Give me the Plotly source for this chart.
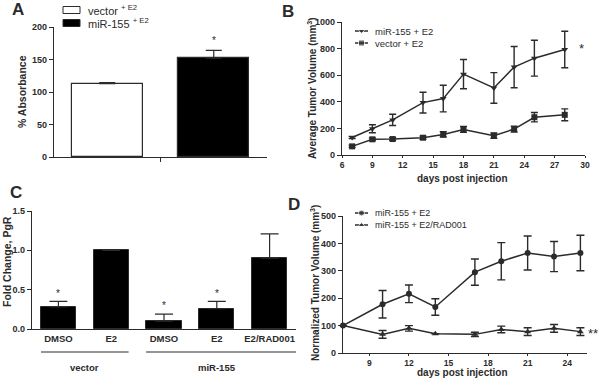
import plotly.graph_objects as go

# ---------------- data ----------------
# Panel A
a_groups = ["vector", "miR-155"]
a_values = [113, 152]
a_err = [1.5, 12]

# Panel B
b_days = [7, 9, 11, 14, 16, 18, 21, 23, 25, 28]
b_mir = [132, 197, 264, 394, 424, 608, 504, 661, 728, 793]
b_mir_err = [8, 30, 42, 78, 100, 110, 115, 155, 135, 137]
b_vec = [65, 118, 120, 130, 155, 192, 145, 195, 284, 302]
b_vec_err = [8, 10, 10, 12, 20, 22, 20, 22, 35, 45]

# Panel C
c_labels = ["DMSO", "E2", "DMSO", "E2", "E2/RAD001"]
c_values = [0.28, 1.0, 0.10, 0.26, 0.90]
c_err = [0.07, 0.0, 0.09, 0.09, 0.31]
c_star = [True, False, True, True, False]
c_groups = ["vector", "miR-155"]

# Panel D
d_days = [7, 10, 12, 14, 17, 19, 21, 23, 25]
d_mir = [100, 178, 216, 168, 295, 335, 365, 352, 365]
d_mir_err = [0, 50, 32, 30, 48, 68, 62, 55, 65]
d_rad = [100, 68, 90, 70, 68, 86, 78, 90, 78]
d_rad_err = [0, 14, 10, 0, 8, 12, 14, 14, 14]

# ---------------- styling ----------------
FONT = "Liberation Sans, Arial, sans-serif"
INK = "#2b2b2b"
W, H = 600, 380


def px(x):
    return x / W


def py(y):
    return 1 - y / H


fig = go.Figure()

# Panel A bars
a_x = list(range(len(a_groups)))
fig.add_trace(go.Bar(x=[a_x[0]], y=[a_values[0]], width=0.667,
                     marker=dict(color="white", line=dict(color=INK, width=1.2)),
                     error_y=dict(type="data", array=[a_err[0]], arrayminus=[0], symmetric=False,
                                  color=INK, thickness=1.2, width=8),
                     xaxis="x", yaxis="y", showlegend=False))
fig.add_trace(go.Bar(x=[a_x[1]], y=[a_values[1]], width=0.667,
                     marker=dict(color="black", line=dict(color=INK, width=1.2)),
                     error_y=dict(type="data", array=[a_err[1]], arrayminus=[0], symmetric=False,
                                  color=INK, thickness=1.2, width=8),
                     xaxis="x", yaxis="y", showlegend=False))

# Panel B lines
fig.add_trace(go.Scatter(x=b_days, y=b_mir, mode="lines+markers",
                         line=dict(color=INK, width=1.5),
                         marker=dict(symbol="triangle-down", size=6, color=INK),
                         error_y=dict(type="data", array=b_mir_err, color=INK, thickness=1.4, width=3.5),
                         xaxis="x2", yaxis="y2", showlegend=False, cliponaxis=False))
fig.add_trace(go.Scatter(x=b_days, y=b_vec, mode="lines+markers",
                         line=dict(color=INK, width=1.5),
                         marker=dict(symbol="square", size=6, color=INK),
                         error_y=dict(type="data", array=b_vec_err, color=INK, thickness=1.4, width=3.5),
                         xaxis="x2", yaxis="y2", showlegend=False, cliponaxis=False))

# Panel C bars
c_x = list(range(len(c_labels)))
fig.add_trace(go.Bar(x=c_x, y=c_values, width=0.667,
                     marker=dict(color="black", line=dict(color=INK, width=1)),
                     error_y=dict(type="data", array=c_err, arrayminus=[0] * len(c_err), symmetric=False,
                                  color=INK, thickness=1.2, width=9),
                     xaxis="x3", yaxis="y3", showlegend=False))

# Panel D lines
fig.add_trace(go.Scatter(x=d_days, y=d_mir, mode="lines+markers",
                         line=dict(color=INK, width=1.5),
                         marker=dict(symbol="circle", size=6, color=INK),
                         error_y=dict(type="data", array=d_mir_err, color=INK, thickness=1.4, width=4),
                         xaxis="x4", yaxis="y4", showlegend=False, cliponaxis=False))
fig.add_trace(go.Scatter(x=d_days, y=d_rad, mode="lines+markers",
                         line=dict(color=INK, width=1.5),
                         marker=dict(symbol="triangle-up", size=6, color=INK),
                         error_y=dict(type="data", array=d_rad_err, color=INK, thickness=1.4, width=4),
                         xaxis="x4", yaxis="y4", showlegend=False, cliponaxis=False))

# Legend swatches on a helper pixel axis
leg_items = [
    (355, 368, 31, "triangle-down"),
    (355, 368, 43, "square"),
    (355, 368, 213, "circle"),
    (355, 368, 225, "triangle-up"),
]
for x0, x1, y, sym in leg_items:
    fig.add_trace(go.Scatter(x=[x0, (x0 + x1) / 2, x1], y=[y, y, y], mode="lines+markers",
                             line=dict(color=INK, width=1.5),
                             marker=dict(symbol=sym, size=[0, 6, 0], color=INK),
                             xaxis="x5", yaxis="y5", showlegend=False, cliponaxis=False,
                             hoverinfo="skip"))

tickfont = dict(family=FONT, size=9, color=INK, weight="bold")
axis_common = dict(showline=True, linecolor=INK, linewidth=1.2, ticks="outside", ticklen=4,
                   tickwidth=1.2, tickcolor=INK, showgrid=False, zeroline=False,
                   tickfont=tickfont, fixedrange=True, automargin=False)
xaxis_common = {**axis_common, "ticklen": 2, "tickfont": {**tickfont, "size": 8.5}}

fig.update_layout(
    width=W, height=H,
    margin=dict(l=0, r=0, t=0, b=0, autoexpand=False),
    paper_bgcolor="white", plot_bgcolor="rgba(0,0,0,0)",
    font=dict(family=FONT, color=INK),
    showlegend=False,
    bargap=0,
    xaxis=dict(domain=[px(54), px(267)], range=[-0.5, 1.5], tickvals=[0.5], showticklabels=False,
               anchor="y", **{**xaxis_common, "ticklen": 4}),
    yaxis=dict(domain=[py(157), py(27)], range=[0, 200], dtick=50, anchor="x", **axis_common),
    xaxis2=dict(domain=[px(342), px(585)], range=[6, 30], dtick=3, tick0=6, anchor="y2", **xaxis_common),
    yaxis2=dict(domain=[py(155), py(22)], range=[0, 1000], dtick=200, anchor="x2", **axis_common),
    xaxis3=dict(domain=[px(32), px(296)], range=[-0.5, 4.5], tickvals=c_x, ticktext=c_labels,
                anchor="y3", **{**xaxis_common, "ticks": "", "tickfont": {**tickfont, "size": 9.5}}),
    yaxis3=dict(domain=[py(329), py(211)], range=[0, 1.5], dtick=0.5, tickformat=".1f",
                anchor="x3", **axis_common),
    xaxis4=dict(domain=[px(343), px(587)], range=[7, 25.5], tickvals=[9, 12, 15, 18, 21, 24],
                anchor="y4", **xaxis_common),
    yaxis4=dict(domain=[py(353), py(216)], range=[0, 500], dtick=100, anchor="x4", **axis_common),
    xaxis5=dict(domain=[0, 1], range=[0, W], visible=False, anchor="y5", fixedrange=True),
    yaxis5=dict(domain=[0, 1], range=[H, 0], visible=False, anchor="x5", fixedrange=True),
)

anns = []


def ann(text, x, y, size, bold=False, xanchor="center", yanchor="middle", angle=0, **kw):
    anns.append(dict(text=text, x=x, y=y, xref=kw.pop("xref", "paper"), yref=kw.pop("yref", "paper"),
                     showarrow=False, xanchor=xanchor, yanchor=yanchor, textangle=angle,
                     font=dict(family=FONT, size=size, color=INK, weight="bold" if bold else "normal"),
                     **kw))


# Panel letters
ann("A", px(10), py(10), 17, True, xanchor="left")
ann("B", px(280), py(12), 17, True, xanchor="left")
ann("C", px(8), py(192), 17, True, xanchor="left")
ann("D", px(286), py(204), 17, True, xanchor="left")

# Y axis titles
ann("% Absorbance", px(22), py(92), 10.5, True, angle=-90)
ann("Average Tumor Volume (mm<sup>3</sup>)", px(312), py(88), 10, True, angle=-90)
ann("Fold Change, PgR", px(7), py(262), 10.5, True, angle=-90)
ann("Normalized Tumor Volume (mm<sup>3</sup>)", px(315), py(283), 10, True, angle=-90)

# X axis titles
ann("days post injection", px(463), py(178), 10, True)
ann("days post injection", px(463), py(380), 10, True, yanchor="bottom")

# Panel A legend
fig.add_shape(type="rect", xref="paper", yref="paper", x0=px(63), x1=px(80), y0=py(13.5), y1=py(6.5),
              line=dict(color=INK, width=1), fillcolor="white")
fig.add_shape(type="rect", xref="paper", yref="paper", x0=px(63), x1=px(80), y0=py(26.5), y1=py(19.5),
              line=dict(color=INK, width=1), fillcolor="black")
ann("vector <sup>+ E2</sup>", px(86), py(10), 11, xanchor="left")
ann("miR-155 <sup>+ E2</sup>", px(86), py(23), 11, xanchor="left")

# Panel B / D legends text
ann("miR-155 + E2", px(373), py(31), 9.5, xanchor="left")
ann("vector + E2", px(373), py(43), 9.5, xanchor="left")
ann("miR-155 + E2", px(373), py(213), 9, xanchor="left")
ann("miR-155 + E2/RAD001", px(373), py(225), 9, xanchor="left")

# Significance stars
ann("*", 1, a_values[1] + a_err[1] + 4, 10, xref="x", yref="y", yanchor="bottom")
for i, (v, e, s) in enumerate(zip(c_values, c_err, c_star)):
    if s:
        ann("*", i, v + e + 0.01, 10, xref="x3", yref="y3", yanchor="bottom")
ann("*", 29.7, b_mir[-1] + 10, 13, xref="x2", yref="y2")
ann("**", px(586), d_rad[-1] - 5, 13, yref="y4", xanchor="left")

# Panel C group lines and labels
group_spans = [(-0.33, 1.33), (1.66, 4.5)]
group_centers = [0.5, 3.0]
for (g0, g1), gc, name in zip(group_spans, group_centers, c_groups):
    fig.add_shape(type="line", xref="x3", yref="paper", x0=g0, x1=g1, y0=py(352), y1=py(352),
                  line=dict(color=INK, width=1.2))
    ann(name, gc, py(360), 9.5, True, xref="x3", yanchor="top")

fig.update_layout(annotations=anns)
fig.write_html("out.html", config={"displayModeBar": False},
               post_script="document.body.style.margin='0';")
